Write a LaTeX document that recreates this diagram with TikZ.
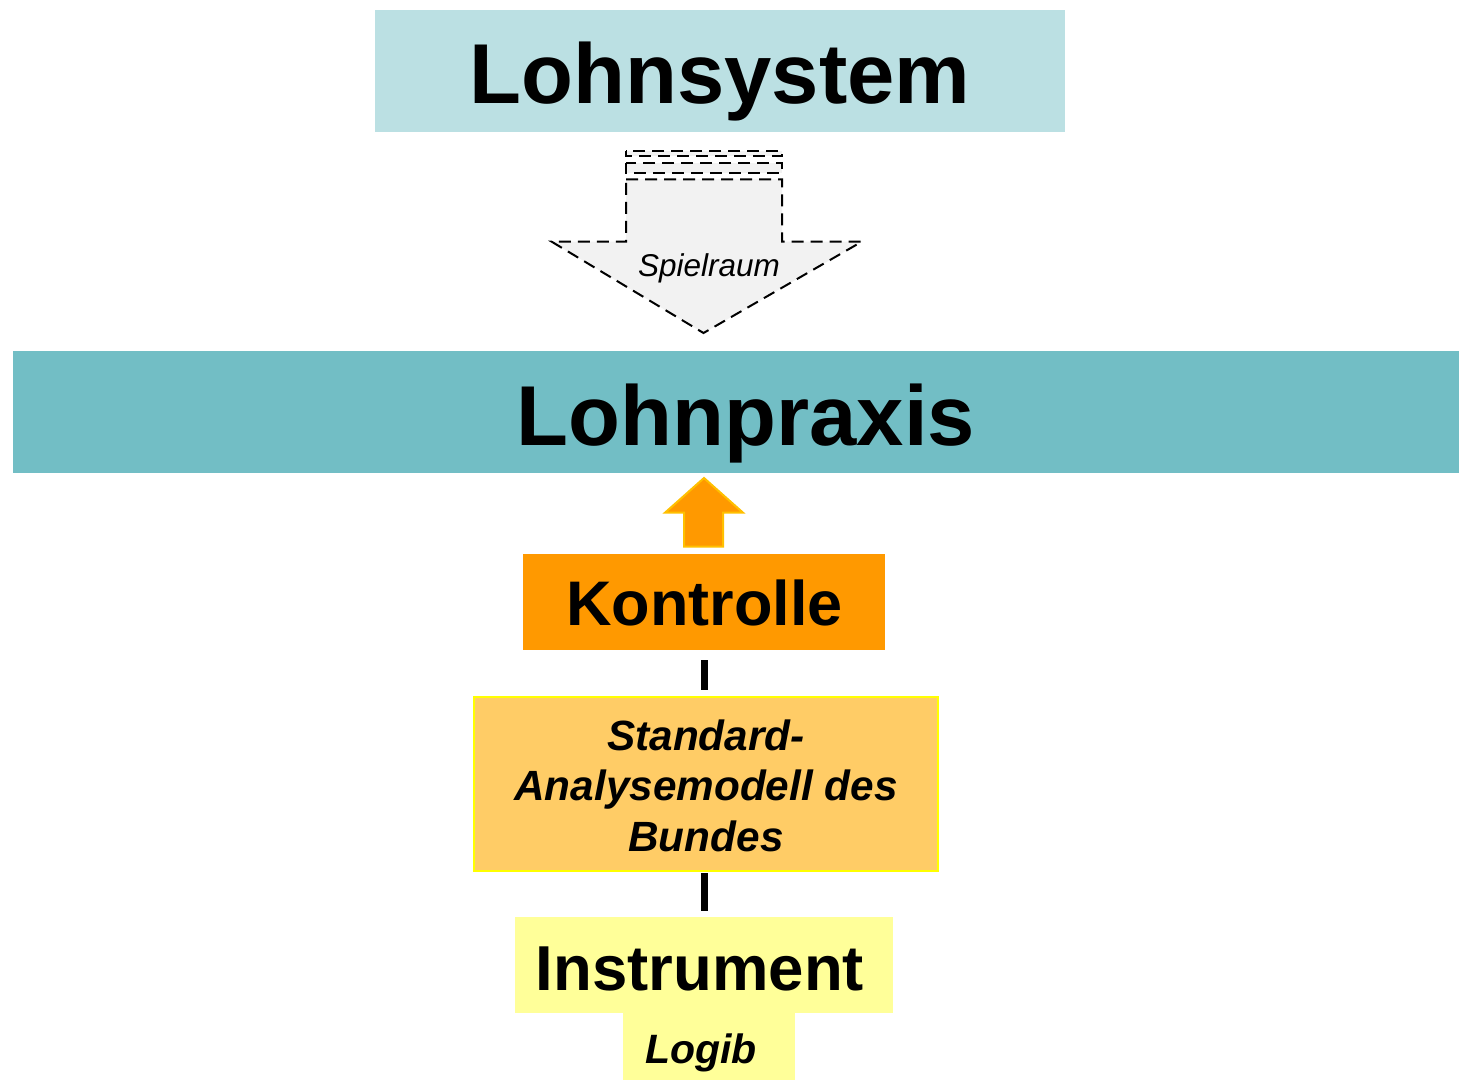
\documentclass[tikz,border=0pt]{standalone}
\usepackage{fontspec}
\setmainfont{Liberation Sans}
\definecolor{sysC}{RGB}{187,224,227}
\definecolor{praxC}{RGB}{114,190,197}
\definecolor{orC}{RGB}{255,153,0}
\definecolor{orEdge}{RGB}{255,192,0}
\definecolor{stdC}{RGB}{255,204,102}
\definecolor{stdEdge}{RGB}{255,255,0}
\definecolor{yelC}{RGB}{255,255,153}
\definecolor{grayF}{RGB}{242,242,242}
\begin{document}
\begin{tikzpicture}[x=1bp,y=-1bp,
  box/.style={inner sep=0pt, outer sep=0pt, draw=none, anchor=center},
  lbl/.style={inner sep=0pt, anchor=base, font=\bfseries},
  conn/.style={line width=7bp, black},
  dsh/.style={draw=black, line width=2bp, dash pattern=on 12bp off 7bp, fill=grayF}]
\path[use as bounding box, fill=white] (0,0) rectangle (1459,1080);

% boxes
\node[box, fill=sysC, minimum width=690bp, minimum height=122bp] (sys) at (720,71) {};
\node[box, fill=praxC, minimum width=1446bp, minimum height=122bp] (prax) at (736,412) {};
\node[box, fill=orC, minimum width=362bp, minimum height=96bp] (kon) at (704,602) {};
\node[box, fill=stdC, draw=stdEdge, line width=2bp, minimum width=464bp, minimum height=174bp] (std) at (706,784) {};
\node[box, fill=yelC, minimum width=378bp, minimum height=96bp] (ins) at (704,965) {};
\node[box, fill=yelC, minimum width=172bp, minimum height=67bp] (log) at (709,1046.5) {};

% texts
\node[lbl, font=\fontsize{85bp}{85bp}\selectfont\bfseries] (tsys) at (720,103) {Lohnsystem};
\node[lbl, font=\fontsize{85bp}{85bp}\selectfont\bfseries] (tprax) at (746,445) {Lohnpraxis};
\node[lbl, font=\fontsize{63bp}{63bp}\selectfont\bfseries] (tkon) at (704.5,625) {Kontrolle};
\node[lbl, font=\fontsize{63.5bp}{63.5bp}\selectfont\bfseries] (tins) at (700,990) {Instrument};
\node[lbl, font=\fontsize{41bp}{41bp}\selectfont\bfseries\itshape] (tlog) at (701,1063) {Logib};
\node[lbl, font=\fontsize{42.3bp}{42.3bp}\selectfont\bfseries\itshape] (tstd1) at (706,750) {Standard-};
\node[lbl, font=\fontsize{42.3bp}{42.3bp}\selectfont\bfseries\itshape] (tstd2) at (706,800) {Analysemodell des};
\node[lbl, font=\fontsize{42.3bp}{42.3bp}\selectfont\bfseries\itshape] (tstd3) at (706,851) {Bundes};

% Spielraum arrow (dashed, striped)
\draw[dsh] (626,150.7) rectangle (782,156.3);
\draw[dsh] (626,162.7) rectangle (782,173.3);
\draw[dsh] (626,179.3) -- (782,179.3) -- (782,241.7) -- (861.7,241.7) -- (703.5,333) -- (551.7,241.7) -- (626,241.7) -- cycle;
\node[inner sep=0pt, anchor=base, font=\fontsize{31.5bp}{31.5bp}\selectfont\itshape] (tspiel) at (709,276.7) {Spielraum};

% orange up arrow
\draw[fill=orC, draw=orEdge, line width=2bp]
  (684,546.7) -- (684,512.7) -- (665,512.7) -- (704,478) -- (743,512.7) -- (723,512.7) -- (723,546.7) -- cycle;

% connectors
\draw[conn, shorten <=10bp, shorten >=7bp] (kon.south) -- (kon.south |- std.north);
\draw[conn, shorten <=2bp, shorten >=6bp] (kon.south |- std.south) -- (kon.south |- ins.north);
\end{tikzpicture}
\end{document}
